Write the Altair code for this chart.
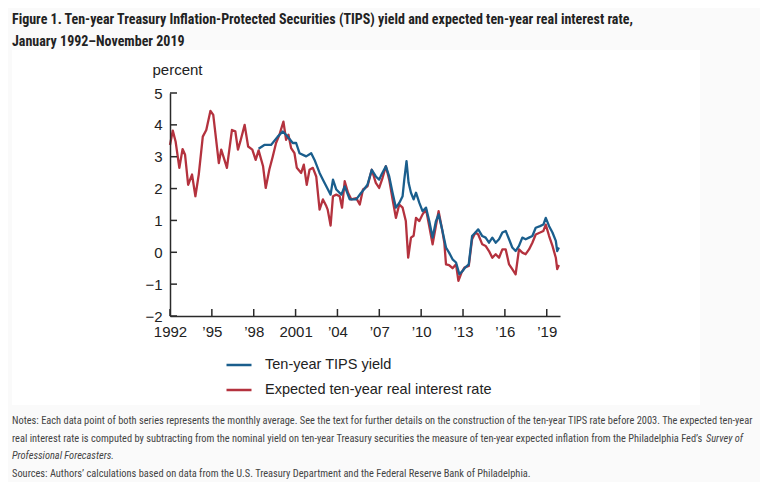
import altair as alt
import pandas as pd

# ---------------- data ----------------
tips_year = [1998.35, 1998.76, 1999.24, 1999.72, 2000.08, 2000.32, 2000.80, 2001.04, 2001.28, 2001.76,
             2002.12, 2002.36, 2002.72, 2002.96, 2003.32, 2003.51, 2003.68, 2003.92, 2004.28, 2004.52,
             2004.88, 2005.35, 2005.70, 2005.90, 2006.15, 2006.46, 2006.75, 2006.99, 2007.16, 2007.47,
             2007.71, 2007.95, 2008.19, 2008.43, 2008.67, 2008.79, 2008.95, 2009.10, 2009.27, 2009.46,
             2009.63, 2009.87, 2010.10, 2010.35, 2010.58, 2010.82, 2011.06, 2011.25, 2011.50, 2011.78,
             2012.00, 2012.25, 2012.50, 2012.74, 2012.98, 2013.15, 2013.41, 2013.65, 2013.89, 2014.09,
             2014.38, 2014.62, 2014.86, 2015.10, 2015.34, 2015.58, 2015.82, 2016.06, 2016.30, 2016.53,
             2016.77, 2017.01, 2017.25, 2017.49, 2017.73, 2017.97, 2018.21, 2018.52, 2018.76, 2018.93,
             2019.17, 2019.41, 2019.65, 2019.75, 2019.87]
tips_value = [3.25, 3.37, 3.37, 3.63, 3.79, 3.69, 3.43, 3.43, 3.11, 3.01,
              3.11, 2.90, 2.49, 2.28, 1.97, 1.81, 2.28, 1.97, 1.81, 2.07,
              1.66, 1.66, 1.87, 1.97, 2.12, 2.59, 2.38, 2.28, 2.44, 2.70,
              2.38, 1.87, 1.40, 1.55, 1.76, 2.28, 2.86, 2.18, 1.87, 1.66,
              1.87, 1.55, 1.29, 1.40, 0.98, 0.46, 0.98, 1.19, 0.72, 0.15,
              -0.01, -0.22, -0.32, -0.69, -0.58, -0.48, -0.38, 0.51, 0.62, 0.72,
              0.51, 0.46, 0.30, 0.46, 0.30, 0.41, 0.62, 0.67, 0.41, 0.15,
              0.04, 0.20, 0.46, 0.41, 0.46, 0.51, 0.77, 0.82, 0.87, 1.08,
              0.82, 0.62, 0.36, 0.04, 0.15]

real_year = [1992.00, 1992.20, 1992.40, 1992.67, 1992.90, 1993.08, 1993.30, 1993.58, 1993.82, 1994.06,
             1994.35, 1994.60, 1994.90, 1995.10, 1995.50, 1995.67, 1995.83, 1996.08, 1996.44, 1996.68,
             1996.87, 1997.04, 1997.35, 1997.60, 1997.90, 1998.14, 1998.35, 1998.67, 1998.86, 1999.12,
             1999.36, 1999.60, 1999.84, 2000.13, 2000.32, 2000.49, 2000.68, 2000.92, 2001.09, 2001.40,
             2001.59, 2001.80, 2002.00, 2002.24, 2002.48, 2002.72, 2002.96, 2003.20, 2003.30, 2003.51,
             2003.68, 2003.92, 2004.16, 2004.33, 2004.52, 2004.76, 2005.00, 2005.35, 2005.60, 2005.83,
             2006.15, 2006.46, 2006.75, 2006.99, 2007.23, 2007.47, 2007.71, 2007.95, 2008.19, 2008.43,
             2008.67, 2008.90, 2009.07, 2009.27, 2009.46, 2009.63, 2009.87, 2010.10, 2010.35, 2010.58,
             2010.82, 2011.06, 2011.25, 2011.50, 2011.66, 2011.78, 2012.00, 2012.25, 2012.50, 2012.67,
             2012.90, 2013.10, 2013.41, 2013.65, 2013.89, 2014.09, 2014.38, 2014.62, 2014.86, 2015.10,
             2015.34, 2015.58, 2015.82, 2016.06, 2016.30, 2016.53, 2016.77, 2017.01, 2017.25, 2017.49,
             2017.73, 2017.97, 2018.21, 2018.52, 2018.76, 2018.93, 2019.17, 2019.41, 2019.65, 2019.75,
             2019.87]
real_value = [3.37, 3.82, 3.48, 2.65, 3.24, 3.06, 2.12, 2.44, 1.76, 2.44,
              3.63, 3.84, 4.44, 4.31, 2.80, 3.22, 3.00, 2.65, 3.84, 3.80,
              3.22, 3.48, 4.00, 3.32, 3.22, 2.90, 3.20, 2.70, 2.02, 2.60,
              3.00, 3.43, 3.69, 4.10, 3.53, 3.69, 3.27, 3.11, 2.65, 2.49,
              2.75, 2.12, 2.59, 2.65, 2.38, 1.34, 1.66, 1.45, 1.34, 0.84,
              1.76, 1.81, 1.76, 1.40, 2.23, 1.87, 1.66, 1.70, 1.50, 1.97,
              2.07, 2.59, 2.18, 2.02, 2.33, 2.70, 2.28, 1.66, 1.08, 1.50,
              1.40, 0.98, -0.17, 0.46, 0.52, 1.08, 0.98, 1.19, 1.34, 0.82,
              0.25, 0.84, 1.29, 0.72, 0.30, -0.38, -0.40, -0.50, -0.38, -0.90,
              -0.63, -0.48, -0.43, 0.41, 0.62, 0.56, 0.25, 0.20, 0.04, -0.17,
              -0.06, -0.17, 0.09, 0.09, -0.38, -0.53, -0.69, 0.09, -0.01, -0.06,
              0.09, 0.30, 0.56, 0.62, 0.67, 0.87, 0.51, 0.20, -0.17, -0.53,
              -0.40]

series_names = ["Ten-year TIPS yield", "Expected ten-year real interest rate"]
series_colors = ["#1a5e8d", "#b4323e"]

y_ticks = [-2, -1, 0, 1, 2, 3, 4, 5]
x_ticks = [1992, 1995, 1998, 2001, 2004, 2007, 2010, 2013, 2016, 2019]
x_labels = ["1992", "\u201995", "\u201998", "2001", "\u201904", "\u201907", "\u201910", "\u201913", "\u201916", "\u201919"]

title_lines = [
    "Figure 1. Ten-year Treasury Inflation-Protected Securities (TIPS) yield and expected ten-year real interest rate,",
    "January 1992\u2013November 2019",
]
note_line1 = ("Notes: Each data point of both series represents the monthly average. See the text for further details on the "
              "construction of the ten-year TIPS rate before 2003. The expected ten-year")
note_line2 = ("real interest rate is computed by subtracting from the nominal yield on ten-year Treasury securities the "
              "measure of ten-year expected inflation from the Philadelphia Fed\u2019s")
note_line2_italic = "Survey of"
note_line3_italic = "Professional Forecasters."
source_line = ("Sources: Authors\u2019 calculations based on data from the U.S. Treasury Department and the Federal "
               "Reserve Bank of Philadelphia.")

# ---------------- tables ----------------
df = pd.concat([
    pd.DataFrame({"year": tips_year, "value": tips_value, "series": series_names[0]}),
    pd.DataFrame({"year": real_year, "value": real_value, "series": series_names[1]}),
], ignore_index=True)

AXIS = "#2a2a2a"
SANS = "Liberation Sans, Arial, Helvetica, sans-serif"
NARROW = "Roboto Condensed, Liberation Sans, sans-serif"

label_expr = " : ".join(f"datum.value == {v} ? '{l}'" for v, l in zip(x_ticks, x_labels)) + " : ''"

xscale = alt.Scale(domain=[1992, 2019.95], nice=False, zero=False)
yscale = alt.Scale(domain=[-2, 5], nice=False, zero=False)

xaxis = alt.Axis(
    values=x_ticks, labelExpr=label_expr, title=None, ticks=False, grid=False,
    domainColor=AXIS, domainWidth=1.5, labelFont=SANS, labelFontSize=15, labelColor="#222222",
    labelPadding=8, labelOverlap=False, labelFlush=False, zindex=1)
yaxis = alt.Axis(
    values=y_ticks, title="percent", titleAngle=0, titleAlign="left", titleBaseline="alphabetic",
    titleX=-18, titleY=-19, titleFont=SANS, titleFontSize=15, titleFontWeight="normal", titleColor="#222222",
    ticks=False, grid=False, domainColor=AXIS, domainWidth=1.5, labelFont=SANS, labelFontSize=15,
    labelColor="#222222", labelPadding=8, labelOverlap=False, labelFlush=False, zindex=1)

color = alt.Color(
    "series:N",
    scale=alt.Scale(domain=series_names, range=series_colors),
    legend=alt.Legend(
        title=None, orient="none", legendX=55, legendY=258,
        symbolType="stroke", symbolSize=625, symbolStrokeWidth=2.5,
        labelFont=SANS, labelFontSize=14.5, labelColor="#222222", labelLimit=400,
        labelOffset=12, rowPadding=4, padding=0, offset=0,
    ),
)

x_enc = alt.X("year:Q", scale=xscale, axis=xaxis)
y_enc = alt.Y("value:Q", scale=yscale, axis=yaxis)

one = pd.DataFrame({"k": [0]})

panel = alt.Chart(one).mark_rect(color="white").encode(
    x=alt.value(-158), x2=alt.value(530), y=alt.value(-43), y2=alt.value(312))

real_line = alt.Chart(df).transform_filter(alt.datum.series == series_names[1]).mark_line(
    strokeWidth=2.3, strokeJoin="round").encode(x=x_enc, y=y_enc, color=color)
tips_line = alt.Chart(df).transform_filter(alt.datum.series == series_names[0]).mark_line(
    strokeWidth=2.3, strokeJoin="round").encode(x=x_enc, y=y_enc, color=color)

ytick_rules = alt.Chart(pd.DataFrame({"v": y_ticks})).mark_rule(color=AXIS, strokeWidth=1.5).encode(
    y=alt.Y("v:Q", scale=yscale, axis=yaxis), x=alt.value(0), x2=alt.value(7))
xtick_rules = alt.Chart(pd.DataFrame({"t": x_ticks})).mark_rule(color=AXIS, strokeWidth=1.5).encode(
    x=alt.X("t:Q", scale=xscale, axis=xaxis), y=alt.value(223), y2=alt.value(216))


def text(s, x, y, size, weight="normal", style="normal", align="left", font=NARROW, col="#222222"):
    return alt.Chart(one).mark_text(
        text=s, font=font, fontSize=size, fontWeight=weight, fontStyle=style,
        align=align, baseline="alphabetic", color=col, limit=0).encode(x=alt.value(x), y=alt.value(y))


texts = [
    text(title_lines[0], -158, -69, 14, weight="bold"),
    text(title_lines[1], -158, -47, 14, weight="bold"),
    text(note_line1, -158, 331, 10.4, col="#444444"),
    text(note_line2, -158, 349, 10.4, col="#444444"),
    text(note_line2_italic, 536, 349, 10.4, style="italic", col="#444444"),
    text(note_line3_italic, -158, 366, 10.4, style="italic", col="#444444"),
    text(source_line, -158, 384, 10.4, col="#444444"),
]

chart = alt.layer(panel, real_line, tips_line, ytick_rules, xtick_rules, *texts).properties(
    width=390, height=223,
    padding={"left": 162, "top": 85, "right": 200, "bottom": 166},
    autosize=alt.AutoSizeParams(type="none"),
    background="#fafafa",
).configure_view(stroke=None)

chart.save("out.html", embed_options={"renderer": "svg", "actions": False})
